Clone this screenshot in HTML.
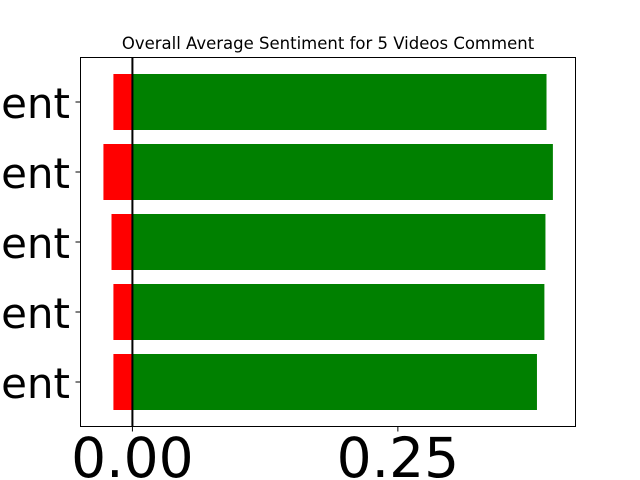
<!DOCTYPE html>
<html><head><meta charset="utf-8"><style>
body{margin:0;background:#fff;}
svg{display:block;font-family:"DejaVu Sans","Liberation Sans",sans-serif;}
</style></head><body>
<svg id="chart" width="640" height="480" viewBox="0 0 640 480">
<text x="328" y="49" font-size="16.5" text-anchor="middle">Overall Average Sentiment for 5 Videos Comment</text>
<g id="bars"></g>
<g id="ticks"></g>
<rect x="80.5" y="57.5" width="495" height="369" fill="none" stroke="#000" stroke-width="1"/>
</svg>
<script>
const categories = ["ent","ent","ent","ent","ent"];
const positiveValues = [0.381, 0.388, 0.389, 0.396, 0.390];
const negativeValues = [-0.0179, -0.0179, -0.0197, -0.0273, -0.0179];
const xTicks = [0, 0.25];
const xTickLabels = ["0.00","0.25"];

const NS="http://www.w3.org/2000/svg";
const xMin=-0.0489, xMax=0.4173, L=80.5, R=575.5, T=57.5, B=426.5;
const x=v=>L+(v-xMin)/(xMax-xMin)*(R-L);
const n=categories.length;
const y=v=>382-70*v;
const bars=document.getElementById('bars'), ticks=document.getElementById('ticks');
function mk(tag,attrs,parent){const e=document.createElementNS(NS,tag);for(const k in attrs)e.setAttribute(k,attrs[k]);parent.appendChild(e);return e;}
for(let i=0;i<n;i++){
  const cy=y(i), h=y(0)-y(0.8);
  const g=mk('rect',{x:x(0),y:cy-h/2,width:x(positiveValues[i])-x(0),height:h,fill:'#008000'},bars);
  
  
  const r=mk('rect',{x:x(negativeValues[i]),y:cy-h/2,width:x(0)-x(negativeValues[i]),height:h,fill:'#ff0000'},bars);
  
  
  const t=mk('line',{x1:L-5,x2:L,y1:cy,y2:cy,stroke:'#000'},ticks);
  
  
  const lb=mk('text',{x:70,y:cy+16,'font-size':42,'text-anchor':'end'},ticks);
  lb.textContent=categories[i];
  
  
}
const zl=mk('line',{x1:x(0),x2:x(0),y1:T,y2:B,stroke:'#000','stroke-width':2},bars);


xTicks.forEach((v,i)=>{
  const t=mk('line',{x1:x(v),x2:x(v),y1:B,y2:B+5,stroke:'#000'},ticks);
  
  
  const lb=mk('text',{x:x(v),y:477,'font-size':55,'text-anchor':'middle'},ticks);
  lb.textContent=xTickLabels[i];
  
  
});
</script>
</body></html>
